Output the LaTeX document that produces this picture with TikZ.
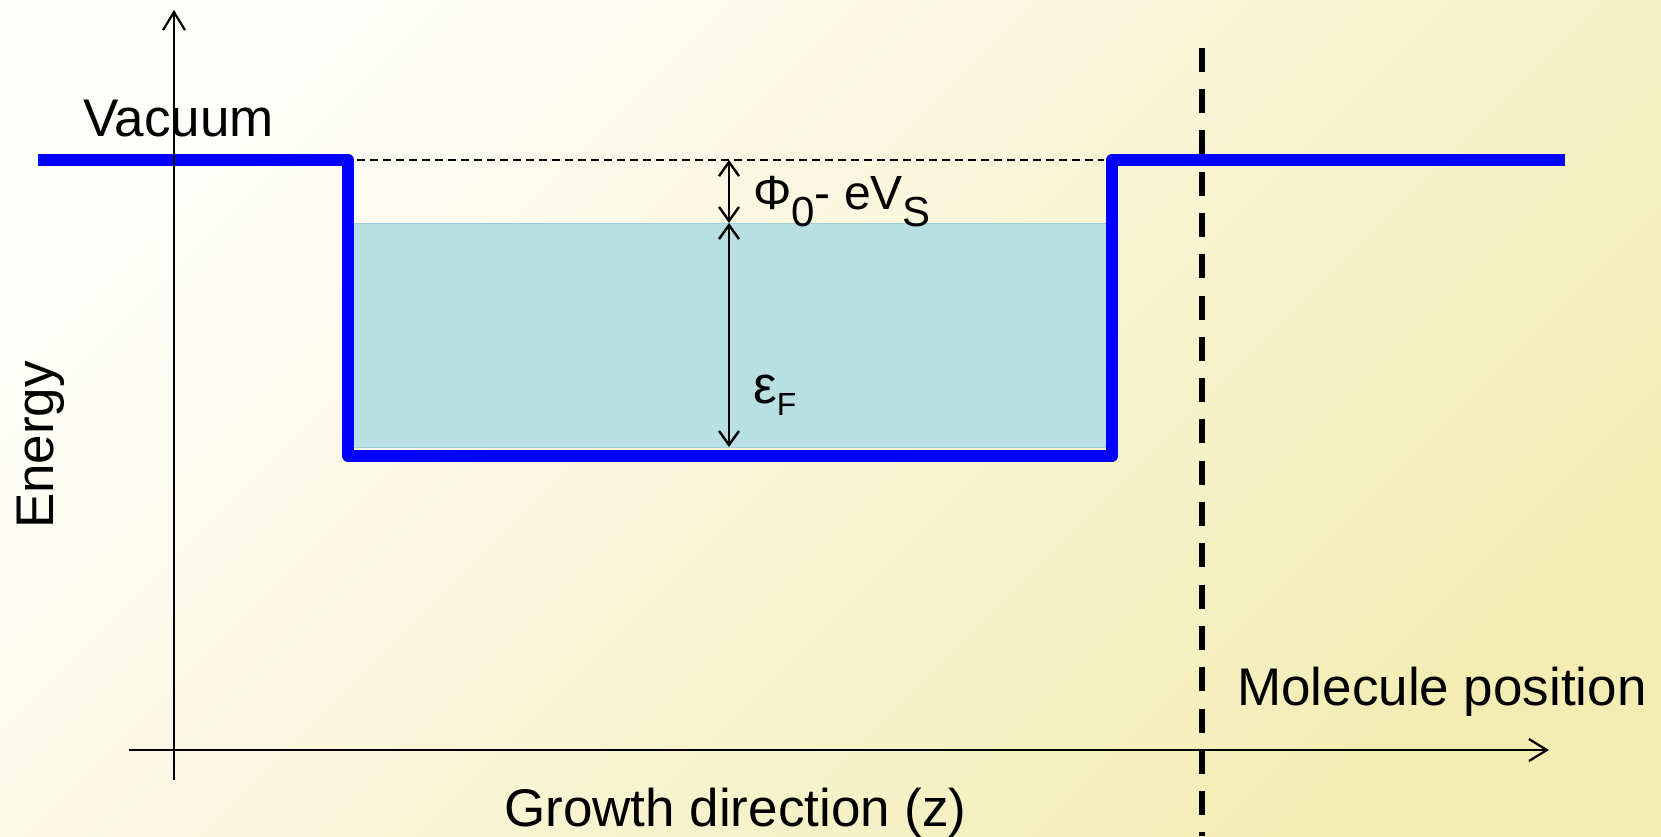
\documentclass[tikz,border=0pt]{standalone}
\usepackage{fontspec}
\setmainfont{Liberation Sans}
\usetikzlibrary{arrows.meta}
\definecolor{bglight}{HTML}{FEFEFA}
\definecolor{bgyellow}{HTML}{F3EDB4}
\definecolor{wellblue}{HTML}{0000FF}
\definecolor{fillcyan}{HTML}{B8E0E3}
\definecolor{filledge}{HTML}{9CD0D6}
\begin{document}
\begin{tikzpicture}[x=1pt,y=-1pt,
  wellline/.style={draw=wellblue, line width=12pt, line join=round},
  axisline/.style={draw=black, line width=2.2pt, -{Straight Barb[length=18pt,width=22pt]}},
  dimline/.style={draw=black, line width=2.4pt, {Straight Barb[length=14pt,width=20pt]}-{Straight Barb[length=14pt,width=20pt]}},
  bigtext/.style={inner sep=0pt, font=\fontsize{53}{63}\selectfont},
  midtext/.style={inner sep=0pt, font=\fontsize{48}{57}\selectfont}
]
\useasboundingbox (0,0) rectangle (1661,836);
\shade[top color=bglight, bottom color=bgyellow, shading angle=45] (0,0) rectangle (1661,836);

% Fermi sea
\fill[fillcyan] (353,223) rectangle (1107,447);
\draw[filledge, line width=1pt] (353,223) -- (1107,223);
\draw[filledge, line width=1pt] (353,447) -- (1107,447);

% coordinates
\coordinate (wL) at (38,160);
\coordinate (wTL) at (348,160);
\coordinate (wBL) at (348,455.5);
\coordinate (wBR) at (1112,455.5);
\coordinate (wTR) at (1112,160);
\coordinate (wR) at (1565,160);
\coordinate (vacL) at (357,160);
\coordinate (vacR) at (1104,160);
\coordinate (molT) at (1202,47.7);
\coordinate (molB) at (1202,836);
\coordinate (yB) at (174,780);
\coordinate (yT) at (174,10);
\coordinate (xL) at (129,750);
\coordinate (xR) at (1549,750);
\coordinate (aTop) at (729,160);
\coordinate (aMid) at (729,223);
\coordinate (aBot) at (729,447);

% potential well
\draw[wellline] (wL) -- (wTL) -- (wBL) -- (wBR) -- (wTR) -- (wR);

% vacuum level continuation
\draw[black, line width=1.6pt, dash pattern=on 8pt off 5pt] (vacL) -- (vacR);

% molecule position
\draw[black, line width=6.5pt, dash pattern=on 24pt off 17.3pt] (molT) -- (molB);

% axes
\draw[axisline] (yB) -- (yT);
\draw[axisline] (xL) -- (xR);

% dimension arrows
\draw[dimline] (aTop) -- (aMid);
\draw[dimline] (aMid) -- (aBot);

% labels
\node[bigtext, anchor=base west] (vac) at (83,136) {Vacuum};
\node[bigtext, anchor=base, rotate=90] (energy) at (53,445) {Energy};
\node[bigtext, anchor=base west] (growth) at (504,826) {Growth direction (z)};
\node[bigtext, anchor=base west] (molecule) at (1237,705) {Molecule position};
\node[midtext, anchor=base west] (phi) at (753,209) {Φ\raisebox{-17pt}{\fontsize{42}{50}\selectfont 0}- eV\raisebox{-17pt}{\fontsize{42}{50}\selectfont S}};
\node[bigtext, anchor=base west] (eps) at (753,403) {ε\raisebox{-12pt}{\fontsize{32}{38}\selectfont F}};
\end{tikzpicture}
\end{document}
